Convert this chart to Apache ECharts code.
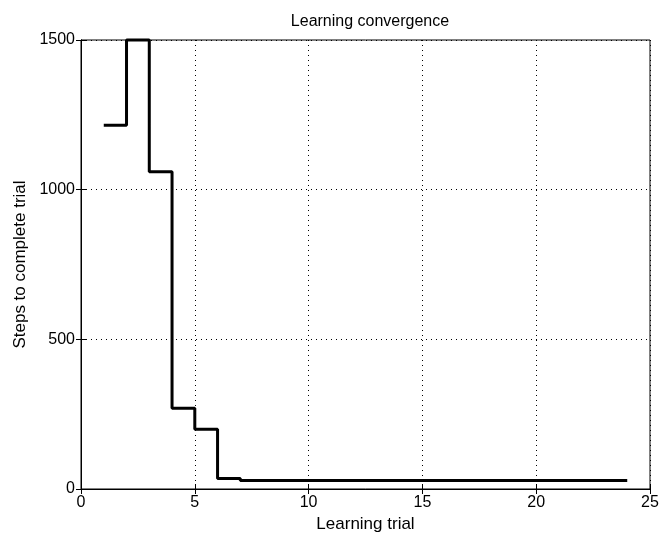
<!DOCTYPE html>
<html>
<head>
<meta charset="utf-8">
<script src="https://cdn.jsdelivr.net/npm/echarts@6/dist/echarts.min.js"></script>
<style>
  html, body { margin: 0; padding: 0; background: #fff; }
  #chart { width: 659px; height: 533px; }
</style>
</head>
<body>
<div id="chart"></div>
<script>
// trial numbers and steps needed per trial
const trials = [1, 2, 3, 4, 5, 6, 7, 8, 9, 10, 11, 12, 13, 14, 15, 16, 17, 18, 19, 20, 21, 22, 23, 24];
const steps = [1215, 1500, 1060, 270, 200, 35, 28, 28, 28, 28, 28, 28, 28, 28, 28, 28, 28, 28, 28, 28, 28, 28, 28, 28];
const xTicks = [0, 5, 10, 15, 20, 25];
const yTicks = [0, 500, 1000, 1500];

const font = 'Liberation Sans, Arial, Helvetica, sans-serif';

const chart = echarts.init(document.getElementById('chart'));

const dotted = { show: true, lineStyle: { color: '#000', type: [1, 4], width: 1 } };
const tick = { show: true, inside: true, length: 5, lineStyle: { color: '#000' } };
const label = { color: '#000', fontFamily: font, fontSize: 16 };
const nameStyle = { color: '#000', fontFamily: font, fontSize: 17 };

chart.setOption({
    animation: false,
    title: {
        text: 'Learning convergence',
        left: 365,
        textAlign: 'center',
        top: 9,
        textStyle: { color: '#000', fontFamily: font, fontSize: 16, fontWeight: 'normal' }
    },
    grid: {
        left: 81, right: 9, top: 40, bottom: 44,
        outerBoundsMode: 'none',
        show: true, borderColor: '#000', borderWidth: 1
    },
    xAxis: [{
        type: 'value',
        min: xTicks[0],
        max: xTicks[xTicks.length - 1],
        interval: 5,
        name: 'Learning trial',
        nameLocation: 'middle',
        nameGap: 25,
        nameTextStyle: nameStyle,
        axisLine: { lineStyle: { color: '#000' } },
        axisTick: tick,
        axisLabel: Object.assign({ margin: 6 }, label),
        splitLine: dotted
    }, {
        type: 'value',
        position: 'top',
        min: xTicks[0],
        max: xTicks[xTicks.length - 1],
        interval: 5,
        axisLine: { lineStyle: { color: '#000' } },
        axisTick: tick,
        axisLabel: { show: false },
        splitLine: { show: false }
    }],
    yAxis: [{
        type: 'value',
        min: yTicks[0],
        max: yTicks[yTicks.length - 1],
        interval: 500,
        name: 'Steps to complete trial',
        nameLocation: 'middle',
        nameGap: 42,
        nameTextStyle: nameStyle,
        axisLine: { lineStyle: { color: '#000' } },
        axisTick: tick,
        axisLabel: Object.assign({ margin: 6, formatter: v => String(v) }, label),
        splitLine: dotted
    }, {
        type: 'value',
        position: 'right',
        min: yTicks[0],
        max: yTicks[yTicks.length - 1],
        interval: 500,
        axisLine: { show: true, lineStyle: { color: '#000' } },
        axisTick: tick,
        axisLabel: { show: false },
        splitLine: { show: false }
    }],
    series: [{
        type: 'line',
        step: 'end',
        data: trials.map((t, i) => [t, steps[i]]),
        showSymbol: false,
        clip: false,
        lineStyle: { color: '#000', width: 3 }
    }]
});
</script>
</body>
</html>
